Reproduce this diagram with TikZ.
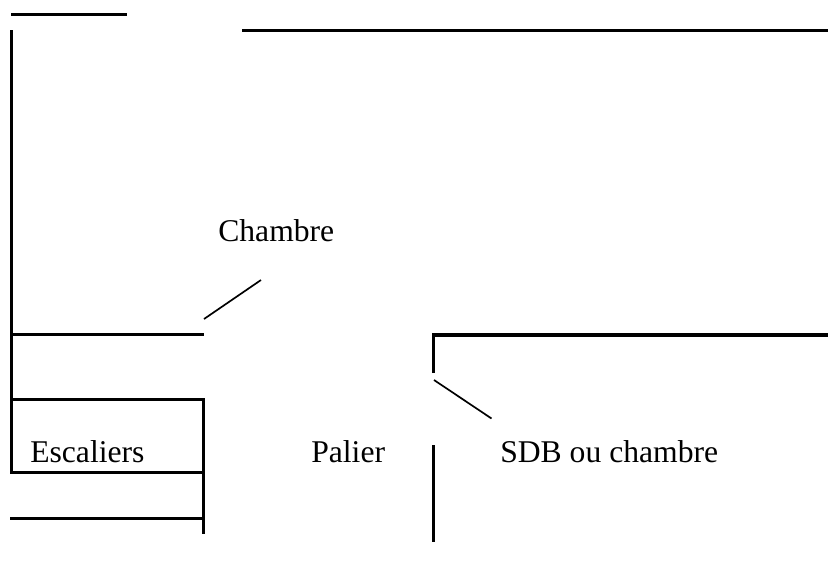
\documentclass[tikz,border=0pt]{standalone}
\usepackage{fontspec}
\setmainfont{Liberation Serif}
\usetikzlibrary{positioning}
\tikzset{
  wall/.style={line width=2.5pt, line cap=butt},
  thinwall/.style={line width=1.2pt},
  roomlabel/.style={font=\fontsize{22.5}{27}\selectfont, inner sep=0pt, anchor=base west}
}
\begin{document}
\begin{tikzpicture}[x=0.025cm, y=-0.025cm]
  \useasboundingbox (0,0) rectangle (828,561);

  % Outer walls
  \draw[wall] (11,14.5) -- (127,14.5);
  \draw[wall] (242,30.5) -- (828,30.5);
  \draw[wall] (11.5,30) -- (11.5,472);

  % Stairs
  \draw[wall] (10,334.5) -- (204,334.5);
  \draw[wall] (10,399.5) -- (204,399.5);
  \draw[wall] (10,472.5) -- (204,472.5);
  \draw[wall] (10,518.5) -- (204,518.5);
  \draw[wall] (203.5,398) -- (203.5,534);

  % Right rooms
  \draw[wall] (433.5,373) -- (433.5,335) -- (828,335);
  \draw[wall] (433.5,445) -- (433.5,542);

  % Door leaves
  \draw[thinwall] (204,319) -- (261,280);
  \draw[thinwall] (434,380) -- (491.5,418.5);

  % Labels
  \node[roomlabel] (chambre) at (218,241) {Chambre};
  \node[roomlabel] (escaliers) at (30,462.5) {Escaliers};
  \node[roomlabel] (palier) at (311,462.5) {Palier};
  \node[roomlabel] (sdb) at (500,462.5) {SDB ou chambre};
\end{tikzpicture}
\end{document}
